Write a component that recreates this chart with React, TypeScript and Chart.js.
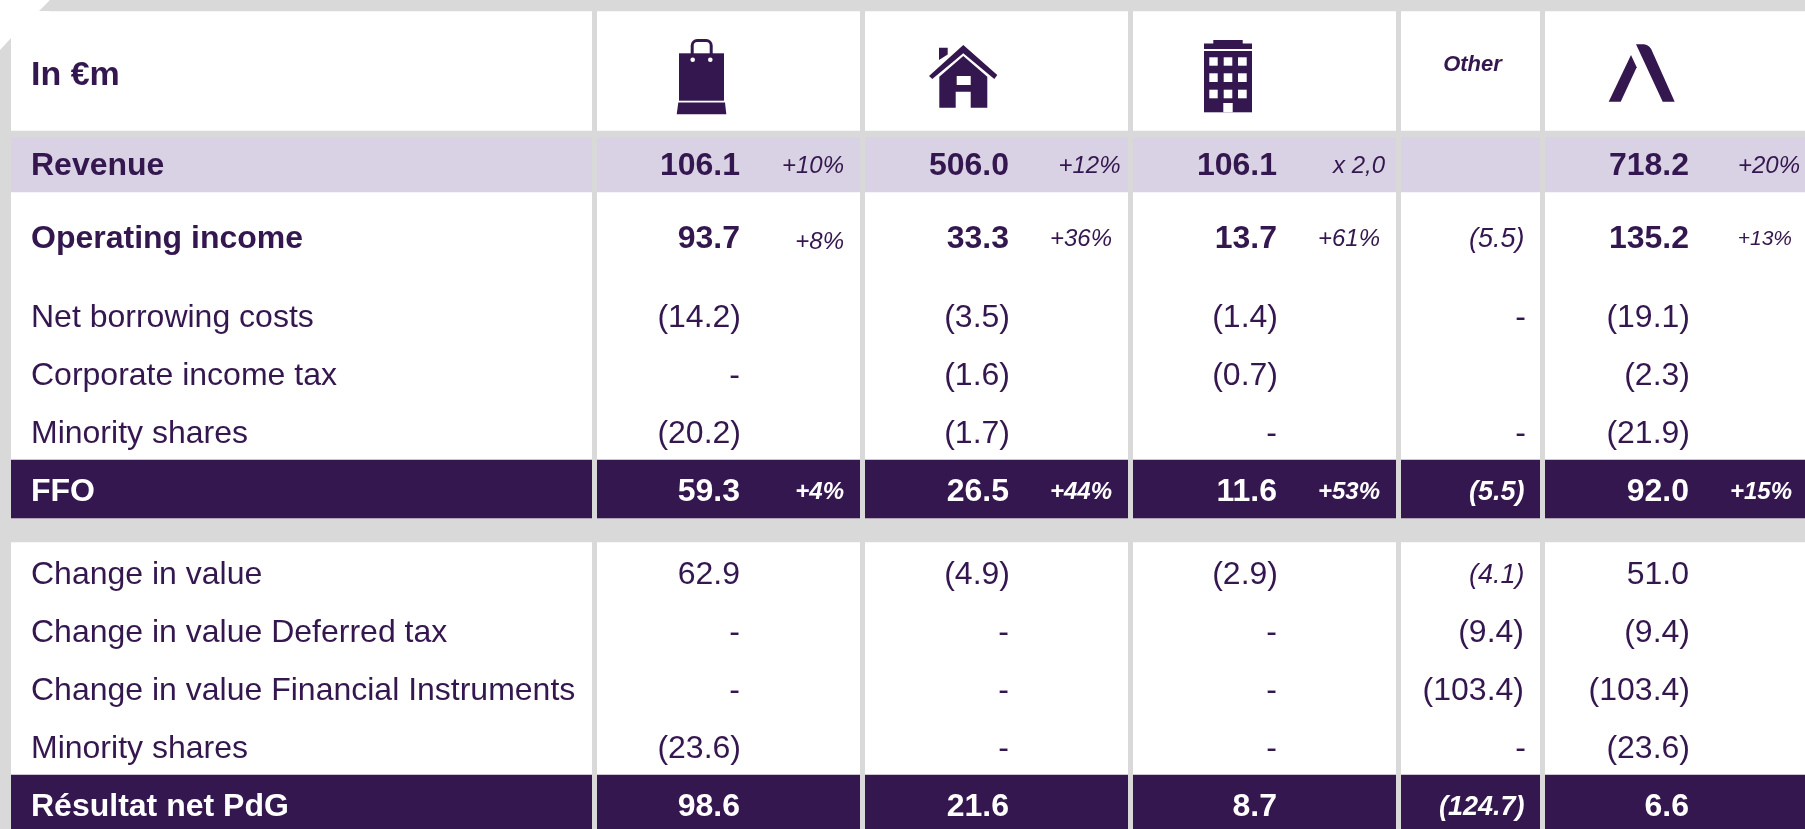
import React, { useEffect, useRef } from "react";
import { Chart, registerables } from "chart.js";

Chart.register(...registerables);

type Cell = number | null | undefined; // null = dash, undefined = blank

const headerLabel = "In €m";
const otherLabel = "Other";

const rowLabels = [
  "Revenue",
  "Operating income",
  "Net borrowing costs",
  "Corporate income tax",
  "Minority shares",
  "FFO",
  "Change in value",
  "Change in value Deferred tax",
  "Change in value Financial Instruments",
  "Minority shares",
  "Résultat net PdG",
];

const revenue: Cell[] = [106.1, 506.0, 106.1, undefined, 718.2];
const operatingIncome: Cell[] = [93.7, 33.3, 13.7, -5.5, 135.2];
const netBorrowing: Cell[] = [-14.2, -3.5, -1.4, null, -19.1];
const incomeTax: Cell[] = [null, -1.6, -0.7, undefined, -2.3];
const minorityA: Cell[] = [-20.2, -1.7, null, null, -21.9];
const ffo: Cell[] = [59.3, 26.5, 11.6, -5.5, 92.0];
const changeValue: Cell[] = [62.9, -4.9, -2.9, -4.1, 51.0];
const changeDeferred: Cell[] = [null, null, null, -9.4, -9.4];
const changeFinancial: Cell[] = [null, null, null, -103.4, -103.4];
const minorityB: Cell[] = [-23.6, null, null, null, -23.6];
const netResult: Cell[] = [98.6, 21.6, 8.7, -124.7, 6.6];

const revenueGrowth = ["+10%", "+12%", "x 2,0", "", "+20%"];
const operatingGrowth = ["+8%", "+36%", "+61%", "", "+13%"];
const ffoGrowth = ["+4%", "+44%", "+53%", "", "+15%"];

const tableValues = [
  revenue, operatingIncome, netBorrowing, incomeTax, minorityA, ffo,
  changeValue, changeDeferred, changeFinancial, minorityB, netResult,
];

// ---------- layout (separate from the data) ----------
const W = 1805;
const H = 829;
const INK = "#35174f";
const GRAY = "#d9d9d9";
const LAV = "#d9d2e4";
const FONT = '"Liberation Sans", Arial, sans-serif';

const columnSeparators = [594, 862.5, 1130.5, 1398.5, 1542.5];
const valueRight = [740, 1009, 1277, 1523, 1689];
const labelX = 31;
const rowBaseline = [175, 248, 327, 385, 443, 501, 584, 642, 700, 758, 816];
const bands = [
  { from: 0, to: 11, color: GRAY, left: 50 },
  { from: 131, to: 137, color: GRAY, left: 11 },
  { from: 137, to: 192, color: LAV, left: 11 },
  { from: 460, to: 518, color: INK, left: 11 },
  { from: 518, to: 542, color: GRAY, left: 11 },
  { from: 775, to: 829, color: INK, left: 11 },
];
const growthRight: Record<number, number[]> = {
  0: [844, 1120.5, 1385, 0, 1800],
  1: [844, 1112, 1380, 0, 1792],
  5: [844, 1112, 1380, 0, 1792],
};
const growthBaseline: Record<number, number[]> = {
  0: [173, 173, 173, 173, 173],
  1: [249, 246, 246, 246, 245],
  5: [499, 499, 499, 499, 499],
};
const growthSize: Record<number, number[]> = {
  0: [24, 24, 24, 24, 24],
  1: [24, 24, 24, 24, 21],
  5: [24, 24, 24, 24, 24],
};
const growthRows: Record<number, string[]> = { 0: revenueGrowth, 1: operatingGrowth, 5: ffoGrowth };

const fmt = (v: Cell) =>
  v === undefined ? "" : v === null ? "-" : v < 0 ? `(${Math.abs(v).toFixed(1)})` : v.toFixed(1);

const isBold = (r: number) => r === 0 || r === 1 || r === 5 || r === 10;
const isWhite = (r: number) => r === 5 || r === 10;

function drawIcons(c: CanvasRenderingContext2D, px: (n: number) => number, py: (n: number) => number) {
  const poly = (pts: number[][]) => {
    c.beginPath();
    pts.forEach(([x, y], i) => (i ? c.lineTo(px(x), py(y)) : c.moveTo(px(x), py(y))));
    c.closePath();
    c.fill();
  };
  const rect = (x0: number, y0: number, x1: number, y1: number) =>
    c.fillRect(px(x0), py(y0), px(x1) - px(x0), py(y1) - py(y0));

  // shopping bag
  c.fillStyle = INK;
  rect(679, 53.3, 724, 100.7);
  poly([[678.3, 102.5], [725, 102.5], [726.3, 114.3], [676.7, 114.3]]);
  c.strokeStyle = INK;
  c.lineWidth = 3;
  c.beginPath();
  c.moveTo(px(692.2), py(54));
  c.lineTo(px(692.2), py(46));
  c.arcTo(px(692.2), py(40.5), px(697), py(40.5), 5);
  c.lineTo(px(706), py(40.5));
  c.arcTo(px(711.2), py(40.5), px(711.2), py(46), 5);
  c.lineTo(px(711.2), py(54));
  c.stroke();
  c.fillStyle = "#ffffff";
  for (const hx of [692.7, 710.3]) {
    c.beginPath();
    c.arc(px(hx), py(59.7), 2.3, 0, Math.PI * 2);
    c.fill();
  }

  // house
  c.fillStyle = INK;
  poly([[963.3, 45], [997.3, 75], [994.3, 79], [963.3, 53.3], [932.3, 79], [929, 76]]);
  poly([[939, 47.7], [947.7, 47.7], [947.7, 54.5], [939, 60]]);
  poly([
    [963.3, 56], [987.3, 76.7], [987.3, 107.7], [970.7, 107.7], [970.7, 91.7],
    [955.7, 91.7], [955.7, 107.7], [939.3, 107.7], [939.3, 76.7],
  ]);
  c.fillStyle = "#ffffff";
  rect(956.7, 76, 970.7, 85);

  // office building
  c.fillStyle = INK;
  rect(1213.3, 40, 1242.7, 44);
  rect(1204, 43.5, 1252, 49);
  rect(1204, 51, 1252, 112.3);
  c.fillStyle = "#ffffff";
  for (const [x0, x1] of [[1209.3, 1217.7], [1223.7, 1232.3], [1238, 1246.7]]) {
    for (const [y0, y1] of [[57.3, 65.7], [73.3, 82], [89.7, 98.3]]) rect(x0, y0, x1, y1);
  }
  rect(1223.3, 103, 1232.7, 112.3);

  // group logo
  c.fillStyle = INK;
  c.beginPath();
  c.moveTo(px(1636), py(44.3));
  c.lineTo(px(1644), py(44.3));
  c.quadraticCurveTo(px(1650), py(45), px(1652.5), py(52));
  c.lineTo(px(1674.7), py(101.7));
  c.lineTo(px(1662.7), py(101.7));
  c.closePath();
  c.fill();
  poly([[1631, 55], [1636.7, 67.3], [1620.7, 101.7], [1608.7, 101.7]]);
}

const tablePlugin = {
  id: "tablePlugin",
  afterDraw(chart: any) {
    const c: CanvasRenderingContext2D = chart.ctx;
    const xs = chart.scales.x;
    const ys = chart.scales.y;
    const px = (n: number) => xs.getPixelForValue(n);
    const py = (n: number) => ys.getPixelForValue(n);
    c.save();

    // cut-corner frame
    c.fillStyle = GRAY;
    c.beginPath();
    c.moveTo(px(39), py(11));
    c.lineTo(px(50), py(0));
    c.lineTo(px(60), py(0));
    c.lineTo(px(60), py(11));
    c.closePath();
    c.fill();
    c.beginPath();
    c.moveTo(px(0), py(50));
    c.lineTo(px(11), py(38));
    c.lineTo(px(11), py(H));
    c.lineTo(px(0), py(H));
    c.closePath();
    c.fill();

    drawIcons(c, px, py);

    c.textBaseline = "alphabetic";

    // headers
    c.fillStyle = INK;
    c.textAlign = "left";
    c.font = `bold 34px ${FONT}`;
    c.fillText(headerLabel, px(labelX), py(85));
    c.textAlign = "center";
    c.font = `italic bold 22px ${FONT}`;
    c.fillText(otherLabel, px(1472.5), py(71));

    rowLabels.forEach((label, r) => {
      const color = isWhite(r) ? "#ffffff" : INK;
      const weight = isBold(r) ? "bold " : "";
      c.fillStyle = color;
      c.textAlign = "left";
      c.font = `${weight}32px ${FONT}`;
      c.fillText(label, px(labelX), py(rowBaseline[r]));

      c.textAlign = "right";
      tableValues[r].forEach((v, col) => {
        const italicCell = col === 3 && (r === 1 || r === 5 || r === 6 || r === 10);
        const dashInOther = col === 3 && v === null;
        const parenNudge = v !== null && v !== undefined && v < 0 && !italicCell ? 1 : 0;
        c.font = italicCell
          ? `italic ${isWhite(r) ? "bold " : ""}27px ${FONT}`
          : `${weight}32px ${FONT}`;
        const xv = valueRight[col] + (italicCell ? 1.5 : dashInOther ? 3 : parenNudge);
        c.fillText(fmt(v), px(xv), py(rowBaseline[r] - (italicCell ? 1.5 : 0)));
      });

      const growth = growthRows[r];
      if (growth) {
        growth.forEach((g, col) => {
          c.font = `italic ${r === 5 ? "bold " : ""}${growthSize[r][col]}px ${FONT}`;
          if (g) c.fillText(g, px(growthRight[r][col]), py(growthBaseline[r][col]));
        });
      }
    });
    c.restore();
  },
};

export default function App() {
  const ref = useRef<HTMLCanvasElement>(null);
  useEffect(() => {
    document.body.style.margin = "0";
    document.body.style.background = "#ffffff";
    const chart = new Chart(ref.current as HTMLCanvasElement, {
      type: "bar",
      data: {
        datasets: bands.map((b) => ({
          label: "",
          data: [{ x: [b.left, W], y: (b.from + b.to) / 2 }],
          backgroundColor: b.color,
          barThickness: b.to - b.from,
          grouped: false,
          borderWidth: 0,
        })) as any,
      },
      options: {
        indexAxis: "y",
        animation: false,
        responsive: false,
        maintainAspectRatio: false,
        layout: { padding: 0 },
        plugins: { legend: { display: false }, tooltip: { enabled: false } },
        scales: {
          x: {
            type: "linear",
            min: 0,
            max: W,
            afterBuildTicks: (s: any) => {
              s.ticks = columnSeparators.map((value) => ({ value }));
            },
            ticks: { display: false },
            border: { display: false },
            grid: { color: GRAY, lineWidth: 5, drawTicks: false, z: 1 },
          },
          y: { type: "linear", min: 0, max: H, reverse: true, display: false, offset: false },
        },
      },
      plugins: [tablePlugin],
    } as any);
    return () => chart.destroy();
  }, []);
  return <canvas ref={ref} width={W} height={H} style={{ display: "block" }} />;
}
